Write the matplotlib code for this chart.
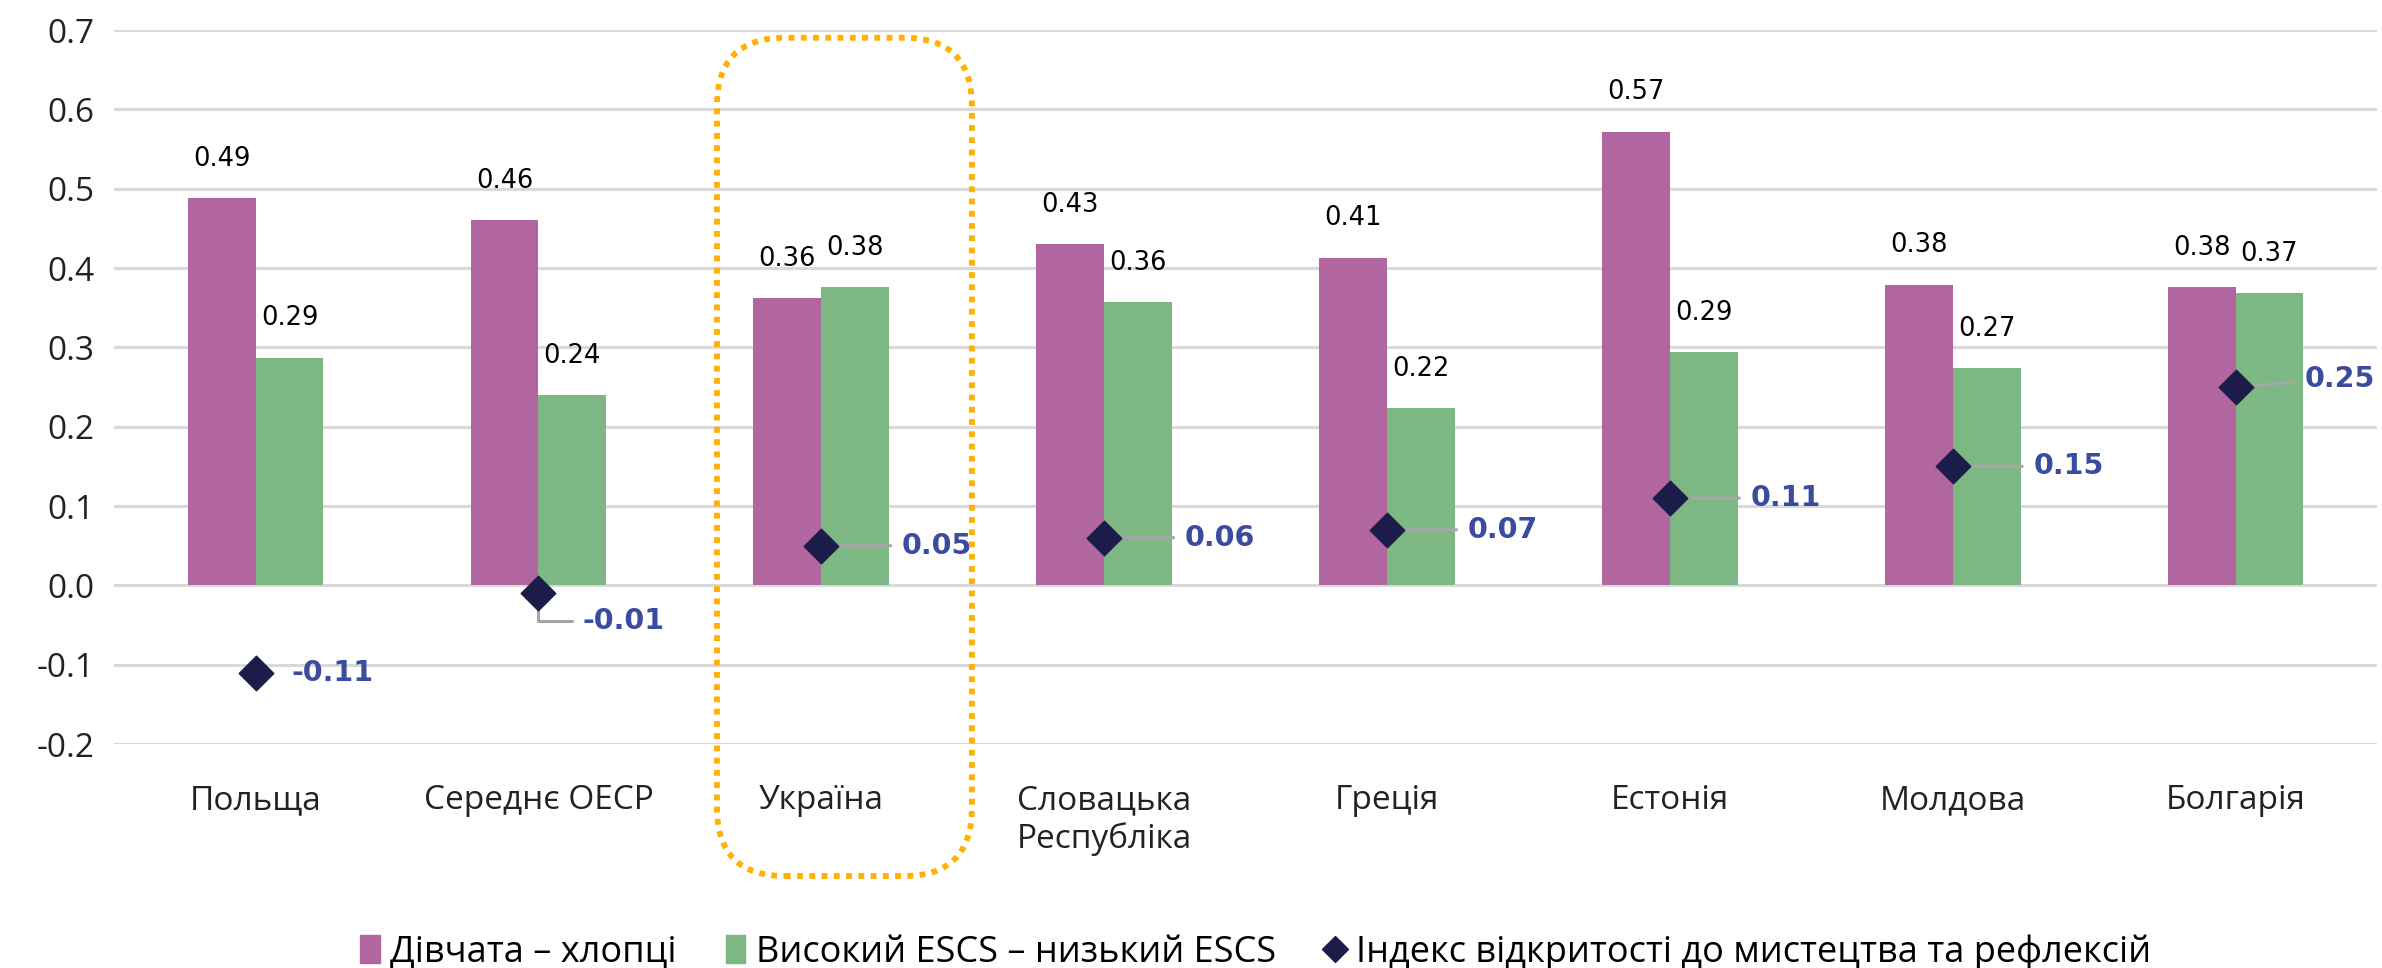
import matplotlib.pyplot as plt
import numpy as np
from matplotlib.patches import FancyBboxPatch, Patch
from matplotlib.lines import Line2D

plt.rcParams['font.family'] = ['Open Sans', 'DejaVu Sans']

# дані
countries = ['Польща', 'Середнє ОЕСР', 'Україна', 'Словацька\nРеспубліка',
             'Греція', 'Естонія', 'Молдова', 'Болгарія']
girls_boys = [0.488, 0.460, 0.362, 0.430, 0.413, 0.572, 0.379, 0.376]
escs_gap = [0.287, 0.240, 0.376, 0.357, 0.223, 0.294, 0.274, 0.368]
openness = [-0.11, -0.01, 0.05, 0.06, 0.07, 0.11, 0.15, 0.25]
yticks = [-0.2, -0.1, 0.0, 0.1, 0.2, 0.3, 0.4, 0.5, 0.6, 0.7]
legend_labels = ['Дівчата – хлопці', 'Високий ESCS – низький ESCS',
                 'Індекс відкритості до мистецтва та рефлексій']

# зсув підписів індексу (пункти)
lab_dx = [26, 32, 58, 58, 58, 58, 58, 50]
lab_dy = [0, -20, 0, 0, 0, 0, 0, 6]

pink = '#B266A0'
green = '#7DB884'
navy = '#1C1C4A'
blue = '#3B4BA0'

fig = plt.figure(figsize=(23.82, 9.68), dpi=100)
ax = fig.add_axes([0.0479, 0.2314, 0.95, 0.7376])

x = np.arange(len(countries))
w = 0.24
b1 = ax.bar(x - w / 2, girls_boys, w, color=pink, zorder=2)
b2 = ax.bar(x + w / 2, escs_gap, w, color=green, zorder=2)
ax.bar_label(b1, fmt='%.2f', padding=19, fontsize=18.5, family='DejaVu Sans')
ax.bar_label(b2, fmt='%.2f', padding=19, fontsize=18.5, family='DejaVu Sans')

ax.scatter(x, openness, marker='D', s=310, color=navy, zorder=4)
for i, v in enumerate(openness):
    arrow = None
    if i > 0:
        cs = 'angle,angleA=0,angleB=90,rad=0' if lab_dy[i] < 0 else 'arc3'
        arrow = dict(arrowstyle='-', color='#A6A6A6', lw=2.2,
                     shrinkA=6, shrinkB=0, connectionstyle=cs)
    ax.annotate('%.2f' % v, (x[i], v), xytext=(lab_dx[i], lab_dy[i]),
                textcoords='offset points', ha='left', va='center',
                fontsize=20.5, fontweight='bold', color=blue,
                family='DejaVu Sans', arrowprops=arrow, zorder=3)

ax.set_xlim(-0.5, len(countries) - 0.5)
ax.set_ylim(-0.2, 0.7)
ax.set_yticks(yticks)
ax.set_yticklabels(['%.1f' % t for t in yticks])
ax.set_xticks(x)
ax.set_xticklabels(countries)
ax.tick_params(axis='both', length=0, labelsize=24, colors='#222222')
ax.tick_params(axis='x', pad=29)
ax.tick_params(axis='y', pad=14)
ax.yaxis.grid(True, color='#D9D9D9', lw=2.2, zorder=0)
ax.set_axisbelow(True)
for s in ax.spines.values():
    s.set_visible(False)

# виділення України
box = FancyBboxPatch((0.301, 0.095), 0.107, 0.866,
                     boxstyle='round,pad=0,rounding_size=0.0285',
                     mutation_aspect=2382 / 968, transform=fig.transFigure,
                     fill=False, ec='#FFB000', lw=4.2, ls=(0, (1, 1.1)),
                     zorder=10)
fig.patches.append(box)

handles = [Patch(color=pink), Patch(color=green),
           Line2D([], [], marker='D', ls='none', color=navy, ms=13)]
fig.legend(handles, legend_labels, loc='center', bbox_to_anchor=(0.527, 0.016),
           ncol=3, frameon=False, fontsize=26, handlelength=0.55,
           handleheight=0.8, handletextpad=0.3, columnspacing=1.35)

fig.savefig('out.png', dpi=100)
